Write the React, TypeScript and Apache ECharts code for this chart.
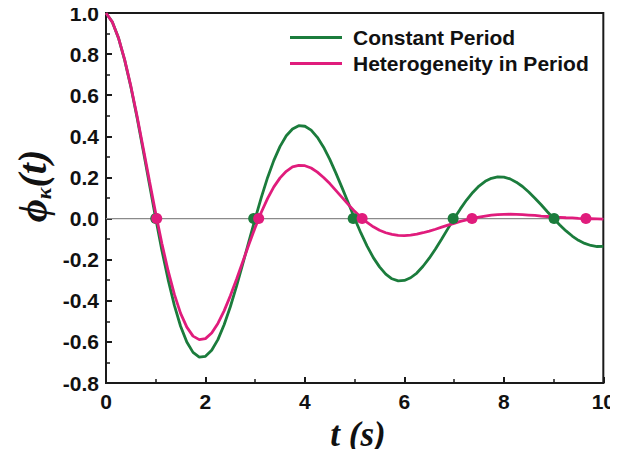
import React, { useEffect, useRef } from "react";
import * as echarts from "echarts";

const tValues = [
  0, 0.125, 0.25, 0.375, 0.5, 0.625, 0.75, 0.875, 1, 1.125, 1.25, 1.375, 1.5, 1.625, 1.75, 1.875,
  2, 2.125, 2.25, 2.375, 2.5, 2.625, 2.75, 2.875, 3, 3.125, 3.25, 3.375, 3.5, 3.625, 3.75, 3.875,
  4, 4.125, 4.25, 4.375, 4.5, 4.625, 4.75, 4.875, 5, 5.125, 5.25, 5.375, 5.5, 5.625, 5.75, 5.875,
  6, 6.125, 6.25, 6.375, 6.5, 6.625, 6.75, 6.875, 7, 7.125, 7.25, 7.375, 7.5, 7.625, 7.75, 7.875,
  8, 8.125, 8.25, 8.375, 8.5, 8.625, 8.75, 8.875, 9, 9.125, 9.25, 9.375, 9.5, 9.625, 9.75, 9.875,
  10,
];

const constantPeriod = [
  1.0, 0.957, 0.879, 0.771, 0.64, 0.49, 0.329, 0.164, 0.0, -0.156, -0.298, -0.422, -0.524, -0.601, -0.651, -0.674,
  -0.67, -0.641, -0.589, -0.517, -0.429, -0.329, -0.221, -0.11, 0.0, 0.104, 0.2, 0.283, 0.351, 0.403, 0.436, 0.452,
  0.449, 0.43, 0.395, 0.347, 0.288, 0.22, 0.148, 0.074, 0.0, -0.07, -0.134, -0.19, -0.235, -0.27, -0.293, -0.303,
  -0.301, -0.288, -0.265, -0.232, -0.193, -0.148, -0.099, -0.049, 0.0, 0.047, 0.09, 0.127, 0.158, 0.181, 0.196, 0.203,
  0.202, 0.193, 0.177, 0.156, 0.129, 0.099, 0.067, 0.033, 0.0, -0.031, -0.06, -0.085, -0.106, -0.121, -0.131, -0.136,
  -0.135,
];

const heterogeneityPeriod = [
  1.0, 0.957, 0.88, 0.773, 0.644, 0.498, 0.341, 0.181, 0.024, -0.123, -0.255, -0.369, -0.461, -0.528, -0.572, -0.589,
  -0.584, -0.557, -0.51, -0.449, -0.376, -0.295, -0.21, -0.125, -0.043, 0.032, 0.098, 0.154, 0.198, 0.23, 0.251, 0.259,
  0.257, 0.246, 0.226, 0.2, 0.17, 0.136, 0.102, 0.068, 0.035, 0.006, -0.019, -0.04, -0.057, -0.069, -0.077, -0.082,
  -0.083, -0.081, -0.076, -0.069, -0.061, -0.052, -0.042, -0.032, -0.023, -0.014, -0.006, 0.001, 0.007, 0.012, 0.017, 0.019,
  0.02, 0.021, 0.02, 0.019, 0.017, 0.015, 0.012, 0.01, 0.008, 0.006, 0.004, 0.003, 0.001, 0.0, -0.001, -0.002,
  -0.003,
];

const constantCrossings = [1.0, 2.97, 4.97, 6.98, 9.01];
const heterogeneityCrossings = [1.02, 3.07, 5.15, 7.36, 9.65];

const GREEN = "#1b7c3c";
const PINK = "#e01c7c";

export default function App() {
  const ref = useRef<HTMLDivElement>(null);

  useEffect(() => {
    if (!ref.current) return;
    const chart = echarts.init(ref.current, undefined, { renderer: "svg" });
    const green = tValues.map((t, i) => [t, constantPeriod[i]]);
    const pink = tValues.map((t, i) => [t, heterogeneityPeriod[i]]);
    const labelStyle = {
      fontFamily: "Liberation Sans, Arial, sans-serif",
      fontWeight: "bold" as const,
      fontSize: 21,
      color: "#111",
    };
    const serif = "Liberation Serif, Times New Roman, serif";
    chart.setOption({
      animation: false,
      backgroundColor: "#ffffff",
      grid: {
        left: 106,
        right: 14,
        top: 13,
        bottom: 74,
        show: true,
        borderColor: "#1a1a1a",
        borderWidth: 2,
        backgroundColor: "transparent",
      },
      legend: {
        orient: "vertical",
        left: 290,
        top: 27,
        padding: 0,
        itemWidth: 52,
        itemHeight: 3,
        itemGap: 5,
        data: [
          { name: "Constant Period", icon: "rect" },
          { name: "Heterogeneity in Period", icon: "rect" },
        ],
        textStyle: {
          fontFamily: "Liberation Sans, Arial, sans-serif",
          fontWeight: "bold",
          fontSize: 21,
          lineHeight: 20,
          color: "#111",
          padding: [0, 0, 0, 6],
        },
      },
      xAxis: {
        type: "value",
        min: 0,
        max: 10,
        interval: 2,
        axisLine: { show: true, onZero: false, lineStyle: { color: "#1a1a1a", width: 2 } },
        axisTick: { show: true, inside: true, length: 6, lineStyle: { color: "#1a1a1a", width: 2 } },
        minorTick: { show: true, splitNumber: 2, length: 4, lineStyle: { color: "#1a1a1a", width: 1.5 } },
        splitLine: { show: false },
        axisLabel: { ...labelStyle, margin: 8 },
      },
      yAxis: {
        type: "value",
        min: -0.8,
        max: 1.0,
        interval: 0.2,
        axisLine: { show: true, onZero: false, lineStyle: { color: "#1a1a1a", width: 2 } },
        axisTick: { show: true, inside: true, length: 6, lineStyle: { color: "#1a1a1a", width: 2 } },
        minorTick: { show: true, splitNumber: 2, length: 4, lineStyle: { color: "#1a1a1a", width: 1.5 } },
        splitLine: { show: false },
        axisLabel: {
          ...labelStyle,
          margin: 7,
          formatter: (v: number) => v.toFixed(1),
        },
      },
      graphic: [
        {
          type: "text",
          x: 358,
          y: 434,
          style: {
            text: "t (s)",
            fontFamily: serif,
            fontStyle: "italic",
            fontWeight: "bold",
            fontSize: 35,
            fill: "#111",
            align: "center",
            verticalAlign: "middle",
          },
        },
        {
          type: "text",
          x: 32,
          y: 186,
          rotation: Math.PI / 2,
          style: {
            text: "{a|ϕ}{b|κ}{a|(t)}",
            align: "center",
            verticalAlign: "middle",
            fill: "#111",
            rich: {
              a: {
                fontFamily: serif,
                fontStyle: "italic",
                fontWeight: "bold",
                fontSize: 40,
                fill: "#111",
                lineHeight: 44,
              },
              b: {
                fontFamily: serif,
                fontStyle: "italic",
                fontWeight: "bold",
                fontSize: 22,
                fill: "#111",
                verticalAlign: "bottom",
                lineHeight: 44,
                padding: [18, 0, 0, 0],
              },
            },
          },
        },
      ],
      series: [
        {
          name: "zero",
          type: "line",
          data: [[0, 0], [10, 0]],
          symbol: "none",
          silent: true,
          lineStyle: { color: "#8a8a8a", width: 1.3 },
          z: 1,
        },
        {
          name: "Constant Period",
          type: "line",
          data: green,
          smooth: false,
          symbol: "none",
          lineStyle: { color: GREEN, width: 2.8 },
          itemStyle: { color: GREEN },
          z: 2,
        },
        {
          name: "Heterogeneity in Period",
          type: "line",
          data: pink,
          smooth: false,
          symbol: "none",
          lineStyle: { color: PINK, width: 2.8 },
          itemStyle: { color: PINK },
          z: 3,
        },
        {
          name: "constantZeros",
          type: "scatter",
          data: constantCrossings.map((t) => [t, 0]),
          symbolSize: 11,
          itemStyle: { color: GREEN, opacity: 1 },
          z: 4,
        },
        {
          name: "heteroZeros",
          type: "scatter",
          data: heterogeneityCrossings.map((t) => [t, 0]),
          symbolSize: 11,
          itemStyle: { color: PINK, opacity: 1 },
          z: 5,
        },
      ],
    });
    return () => chart.dispose();
  }, []);

  return <div ref={ref} style={{ width: 618, height: 457, margin: -8 }} />;
}
